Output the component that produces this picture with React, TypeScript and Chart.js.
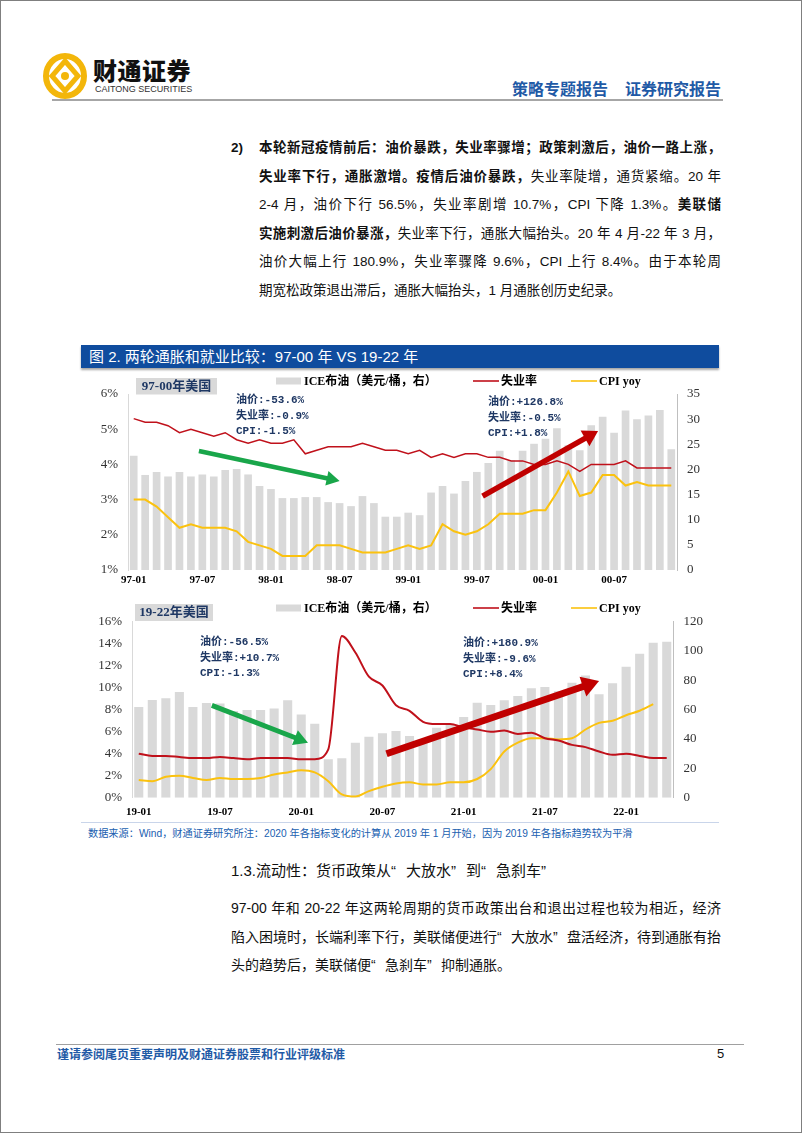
import React, { useEffect, useRef } from "react";
import { Chart, registerables } from "chart.js";
Chart.register(...registerables);

// ---------- Chart 1: 1997-01 .. 2000-12 ----------
const years1 = ["97", "98", "99", "00"];
const years2 = ["19", "20", "21", "22"];
const monthsNum = ["01", "02", "03", "04", "05", "06", "07", "08", "09", "10", "11", "12"];
const labels1: string[] = years1.flatMap((y) => monthsNum.map((m) => `${y}-${m}`));
const labels2: string[] = years2.flatMap((y) => monthsNum.map((m) => `${y}-${m}`)).slice(0, 40);

const oil1 = [
  22.7, 18.9, 19.5, 18.6, 19.5, 18.6, 19.0, 18.6, 19.9, 20.1, 19.0, 16.7,
  16.1, 14.3, 14.3, 14.5, 14.5, 13.5, 13.3, 12.7, 14.7, 13.3, 10.6, 10.6,
  11.4, 10.9, 15.4, 16.7, 15.2, 17.7, 19.5, 21.3, 23.7, 21.8, 23.7, 25.1,
  26.1, 28.2, 24.8, 23.8, 28.8, 30.5, 27.3, 31.7, 30.0, 30.7, 31.8, 24.0,
];
const unemp1 = [
  5.3, 5.2, 5.2, 5.1, 4.9, 5.0, 4.9, 4.8, 4.9, 4.7, 4.6, 4.7,
  4.6, 4.6, 4.7, 4.3, 4.4, 4.5, 4.5, 4.5, 4.6, 4.5, 4.4, 4.4,
  4.3, 4.4, 4.2, 4.3, 4.2, 4.3, 4.3, 4.2, 4.2, 4.1, 4.1, 4.0,
  4.0, 4.1, 4.0, 3.8, 4.0, 4.0, 4.0, 4.1, 3.9, 3.9, 3.9, 3.9,
];
const cpi1 = [
  3.0, 3.0, 2.8, 2.5, 2.2, 2.3, 2.2, 2.2, 2.2, 2.1, 1.8, 1.7,
  1.6, 1.4, 1.4, 1.4, 1.7, 1.7, 1.7, 1.6, 1.5, 1.5, 1.5, 1.6,
  1.7, 1.6, 1.7, 2.3, 2.1, 2.0, 2.1, 2.3, 2.6, 2.6, 2.6, 2.7,
  2.7, 3.2, 3.8, 3.1, 3.2, 3.7, 3.7, 3.4, 3.5, 3.4, 3.4, 3.4,
];

// ---------- Chart 2: 2019-01 .. 2022-04 ----------
const oil2 = [
  61.8, 66.6, 67.8, 72.1, 61.8, 64.6, 64.3, 59.1, 59.8, 59.8, 60.9, 66.4,
  56.8, 50.5, 26.2, 26.9, 37.5, 41.6, 43.9, 45.5, 42.1, 38.5, 47.7, 50.0,
  55.0, 64.8, 63.2, 66.4, 69.3, 74.6, 75.5, 72.5, 78.4, 83.4, 70.5, 78.0,
  89.3, 98.2, 105.7, 106.4,
];
const unemp2 = [
  4.0, 3.8, 3.8, 3.7, 3.6, 3.6, 3.7, 3.6, 3.5, 3.6, 3.6, 3.6,
  3.5, 3.5, 4.4, 14.7, 13.2, 11.0, 10.2, 8.4, 7.9, 6.9, 6.7, 6.7,
  6.4, 6.2, 6.0, 6.1, 5.8, 5.9, 5.4, 5.2, 4.8, 4.6, 4.2, 3.9,
  4.0, 3.8, 3.6, 3.6,
];
const cpi2 = [
  1.6, 1.5, 1.9, 2.0, 1.8, 1.6, 1.8, 1.7, 1.7, 1.8, 2.1, 2.3,
  2.5, 2.3, 1.5, 0.3, 0.1, 0.6, 1.0, 1.3, 1.4, 1.2, 1.2, 1.4,
  1.4, 1.7, 2.6, 4.2, 5.0, 5.4, 5.4, 5.3, 5.4, 6.2, 6.8, 7.0,
  7.5, 7.9, 8.5, null,
];

const seriesNames = ["ICE布油（美元/桶，右）", "失业率", "CPI yoy"];
const notes1Left = ["油价:-53.6%", "失业率:-0.9%", "CPI:-1.5%"];
const notes1Right = ["油价:+126.8%", "失业率:-0.5%", "CPI:+1.8%"];
const notes2Left = ["油价:-56.5%", "失业率:+10.7%", "CPI:-1.3%"];
const notes2Right = ["油价:+180.9%", "失业率:-9.6%", "CPI:+8.4%"];

const RED = "#c0111b";
const YELLOW = "#fbc20f";
const GRAY = "#d9d9d9";
const GREEN = "#19a64a";
const NAVY = "#1f3864";
const SERIF = '"Liberation Serif", "Times New Roman", serif';
const CJK = '"Noto Sans CJK SC", sans-serif';
const MONO = '"Liberation Mono", "Noto Sans CJK SC", monospace';

function drawArrow(ctx: CanvasRenderingContext2D, x0: number, y0: number, x1: number, y1: number, color: string, w: number, headW: number, headL: number) {
  const ang = Math.atan2(y1 - y0, x1 - x0);
  const bx = x1 - headL * Math.cos(ang);
  const by = y1 - headL * Math.sin(ang);
  const px = -Math.sin(ang);
  const py = Math.cos(ang);
  ctx.save();
  ctx.strokeStyle = color;
  ctx.fillStyle = color;
  ctx.lineWidth = w;
  ctx.lineCap = "butt";
  ctx.beginPath();
  ctx.moveTo(x0, y0);
  ctx.lineTo(bx + Math.cos(ang), by + Math.sin(ang));
  ctx.stroke();
  ctx.beginPath();
  ctx.moveTo(x1, y1);
  ctx.lineTo(bx + (px * headW) / 2, by + (py * headW) / 2);
  ctx.lineTo(bx - (px * headW) / 2, by - (py * headW) / 2);
  ctx.closePath();
  ctx.fill();
  ctx.restore();
}

const decorPlugin = {
  id: "decor",
  afterDraw(chart: any, _args: any, opts: any) {
    const ctx: CanvasRenderingContext2D = chart.ctx;
    const xs = chart.scales.x;
    const ys = chart.scales.y;
    // arrows (data coordinates: category index, left-axis value)
    for (const a of opts.arrows || []) {
      drawArrow(
        ctx,
        xs.getPixelForValue(a.x0),
        ys.getPixelForValue(a.y0),
        xs.getPixelForValue(a.x1),
        ys.getPixelForValue(a.y1),
        a.color,
        a.w,
        a.headW,
        a.headL
      );
    }
    // notes
    ctx.save();
    ctx.fillStyle = NAVY;
    ctx.font = `bold 11px ${MONO}`;
    ctx.textBaseline = "middle";
    ctx.textAlign = "left";
    for (const n of opts.notes || []) {
      n.lines.forEach((t: string, i: number) => ctx.fillText(t, n.x, n.y + i * n.gap));
    }
    ctx.restore();
    // box label
    const b = opts.box;
    if (b) {
      ctx.save();
      ctx.fillStyle = GRAY;
      ctx.fillRect(b.x, b.y, b.w, b.h);
      ctx.fillStyle = NAVY;
      ctx.font = `bold 13px "Liberation Serif", "Noto Sans CJK SC"`;
      ctx.textAlign = "center";
      ctx.textBaseline = "middle";
      ctx.fillText(b.text, b.x + b.w / 2, b.y + b.h / 2 + 0.5);
      ctx.restore();
    }
    // legend
    const lg = opts.legend;
    if (lg) {
      ctx.save();
      ctx.font = `bold 12px "Liberation Serif", "Noto Sans CJK SC"`;
      ctx.textBaseline = "middle";
      ctx.textAlign = "left";
      for (const it of lg.items) {
        const ds = chart.data.datasets[it.ds];
        if (ds.type === "bar") {
          ctx.fillStyle = ds.backgroundColor;
          ctx.fillRect(it.x, lg.y - 3.5, 25, 7);
        } else {
          ctx.strokeStyle = ds.borderColor;
          ctx.lineWidth = 1.6;
          ctx.beginPath();
          ctx.moveTo(it.x, lg.y);
          ctx.lineTo(it.x + 26, lg.y);
          ctx.stroke();
        }
        ctx.fillStyle = "#000";
        ctx.fillText(ds.label, it.x + 28, lg.y + 0.5);
      }
      ctx.restore();
    }
  },
};

type PanelParams = {
  labels: string[];
  oil: number[];
  unemp: number[];
  cpi: (number | null)[];
  yMin: number;
  yMax: number;
  yStep: number;
  y1Max: number;
  y1Step: number;
  padTop: number;
  xH: number;
  xPad: number;
  yW: number;
  y1W: number;
  redW: number;
  smooth: boolean;
  decor: any;
};

function makeConfig(p: PanelParams): any {
  const tickFont = { family: SERIF, size: 13 };
  return {
    type: "bar",
    data: {
      labels: p.labels,
      datasets: [
        {
          type: "line",
          label: seriesNames[1],
          data: p.unemp,
          borderColor: RED,
          backgroundColor: RED,
          borderWidth: p.redW,
          pointRadius: 0,
          yAxisID: "y",
          order: 1,
          cubicInterpolationMode: p.smooth ? "monotone" : "default",
          tension: 0,
        },
        {
          type: "line",
          label: seriesNames[2],
          data: p.cpi,
          borderColor: YELLOW,
          backgroundColor: YELLOW,
          borderWidth: 2,
          pointRadius: 0,
          yAxisID: "y",
          order: 2,
          cubicInterpolationMode: p.smooth ? "monotone" : "default",
          tension: 0,
        },
        {
          type: "bar",
          label: seriesNames[0],
          data: p.oil,
          backgroundColor: GRAY,
          yAxisID: "y1",
          order: 3,
          barPercentage: 0.67,
          categoryPercentage: 1,
        },
      ],
    },
    options: {
      responsive: false,
      animation: false,
      devicePixelRatio: 1,
      layout: { padding: { top: p.padTop, left: 0, right: 0, bottom: 0 } },
      plugins: { legend: { display: false }, tooltip: { enabled: false }, decor: p.decor },
      scales: {
        x: {
          type: "category",
          offset: true,
          grid: { display: false, drawTicks: false },
          border: { display: false },
          ticks: {
            autoSkip: false,
            maxRotation: 0,
            minRotation: 0,
            padding: p.xPad,
            color: "#000",
            font: { family: SERIF, size: 11, weight: "bold" },
            callback: (_v: any, i: number) => (i % 6 === 0 ? p.labels[i] : ""),
          },
          afterFit: (s: any) => {
            s.height = p.xH;
          },
        },
        y: {
          position: "left",
          min: p.yMin,
          max: p.yMax,
          grid: { display: false, drawTicks: false },
          border: { display: true, color: "#d9d9d9", width: 1 },
          ticks: {
            stepSize: p.yStep,
            padding: 10,
            color: "#333",
            font: tickFont,
            callback: (v: any) => `${v}%`,
          },
          afterFit: (s: any) => {
            s.width = p.yW;
          },
        },
        y1: {
          position: "right",
          min: 0,
          max: p.y1Max,
          grid: { display: false, drawTicks: false },
          border: { display: true, color: "#bfbfbf", width: 1 },
          ticks: { stepSize: p.y1Step, padding: 10, color: "#333", font: tickFont },
          afterFit: (s: any) => {
            s.width = p.y1W;
          },
        },
      },
    },
    plugins: [decorPlugin],
  };
}

const panel1: PanelParams = {
  labels: labels1,
  oil: oil1,
  unemp: unemp1,
  cpi: cpi1,
  yMin: 1,
  yMax: 6,
  yStep: 1,
  y1Max: 35,
  y1Step: 5,
  padTop: 23,
  xH: 21,
  xPad: 4,
  yW: 47,
  y1W: 44,
  redW: 1.5,
  smooth: false,
  decor: {
    arrows: [
      { x0: 5.7, y0: 4.38, x1: 18.0, y1: 3.53, color: GREEN, w: 4.5, headW: 15, headL: 13 },
      { x0: 30.5, y0: 3.1, x1: 40.6, y1: 4.95, color: "#c00000", w: 5.5, headW: 18, headL: 15 },
    ],
    notes: [
      { x: 155, y: 29.5, gap: 15.3, lines: notes1Left },
      { x: 407, y: 31.7, gap: 15.3, lines: notes1Right },
    ],
    box: { x: 55, y: 7, w: 81, h: 16.5, text: "97-00年美国" },
    legend: {
      y: 10,
      items: [
        { ds: 2, x: 195 },
        { ds: 0, x: 392 },
        { ds: 1, x: 490 },
      ],
    },
  },
};

const panel2: PanelParams = {
  labels: labels2,
  oil: oil2,
  unemp: unemp2,
  cpi: cpi2,
  yMin: 0,
  yMax: 16,
  yStep: 2,
  y1Max: 120,
  y1Step: 20,
  padTop: 28.7,
  xH: 23.3,
  xPad: 8,
  yW: 51,
  y1W: 47.5,
  redW: 2,
  smooth: true,
  decor: {
    arrows: [
      { x0: 5.4, y0: 8.4, x1: 12.5, y1: 5.0, color: GREEN, w: 5, headW: 16, headL: 14 },
      { x0: 18.3, y0: 4.0, x1: 34.0, y1: 10.6, color: "#c00000", w: 7, headW: 21, headL: 17 },
    ],
    notes: [
      { x: 119, y: 49.7, gap: 15.2, lines: notes2Left },
      { x: 382, y: 50.3, gap: 15.5, lines: notes2Right },
    ],
    box: { x: 54, y: 11, w: 78, h: 17, text: "19-22年美国" },
    legend: {
      y: 15,
      items: [
        { ds: 2, x: 195 },
        { ds: 0, x: 392 },
        { ds: 1, x: 490 },
      ],
    },
  },
};

function ChartPanel({ params, left, top, width, height }: { params: PanelParams; left: number; top: number; width: number; height: number }) {
  const ref = useRef<HTMLCanvasElement>(null);
  useEffect(() => {
    const chart = new Chart(ref.current as HTMLCanvasElement, makeConfig(params));
    return () => chart.destroy();
  }, []);
  return (
    <div style={{ position: "absolute", left, top, width, height }}>
      <canvas ref={ref} width={width} height={height} style={{ width, height, display: "block" }} />
    </div>
  );
}

const TEXT = '"Liberation Sans", "Noto Sans CJK SC", sans-serif';

function Line({ top, left, width, size, justify, children, color }: any) {
  return (
    <div
      style={{
        position: "absolute",
        left,
        top: top - 11,
        width,
        height: 22,
        lineHeight: "22px",
        fontSize: size,
        whiteSpace: "nowrap",
        textAlign: justify ? "justify" : "left",
        textAlignLast: justify ? "justify" : "left",
        color: color || "#111",
        fontFamily: TEXT,
      } as any}
    >
      {children}
    </div>
  );
}

const B = ({ children }: any) => <span style={{ fontWeight: 700 }}>{children}</span>;
// full-width curly quotes
const QO = () => <span style={{ display: "inline-block", width: "1em", textAlign: "right" }}>“</span>;
const QC = () => <span style={{ display: "inline-block", width: "1em", textAlign: "left" }}>”</span>;

export default function App() {
  const p1 = 147;
  const g1 = 28.6;
  return (
    <div
      style={{
        position: "relative",
        width: 802,
        height: 1133,
        boxSizing: "border-box",
        border: "1px solid #7f7f7f",
        background: "#fff",
        overflow: "hidden",
        fontFamily: TEXT,
      }}
    >
      <style>{"body{margin:0}"}</style>
      {/* Header */}
      <svg style={{ position: "absolute", left: 41, top: 52 }} width={46} height={46} viewBox="0 0 46 46">
        <ellipse cx={23} cy={23} rx={19} ry={20} fill="none" stroke="#f3b60a" strokeWidth={6} />
        <path d="M23 8 L36 23 L23 38 L10 23 Z" fill="none" stroke="#f3b60a" strokeWidth={5} />
        <circle cx={23} cy={23} r={4} fill="#f3b60a" />
      </svg>
      <div style={{ position: "absolute", left: 92, top: 55, fontSize: 24, fontWeight: 900, fontFamily: CJK, color: "#111", lineHeight: "28px", letterSpacing: 0.5 }}>
        财通证券
      </div>
      <div style={{ position: "absolute", left: 94, top: 83, fontSize: 9, fontFamily: '"Liberation Sans", sans-serif', color: "#333", lineHeight: "11px" }}>
        CAITONG SECURITIES
      </div>
      <div style={{ position: "absolute", left: 511, top: 76, fontSize: 16, fontWeight: 700, fontFamily: CJK, color: "#1f5aa6", lineHeight: "22px", whiteSpace: "nowrap" }}>
        策略专题报告
      </div>
      <div style={{ position: "absolute", left: 624, top: 76, fontSize: 16, fontWeight: 700, fontFamily: CJK, color: "#1f5aa6", lineHeight: "22px", whiteSpace: "nowrap" }}>
        证券研究报告
      </div>
      <div style={{ position: "absolute", left: 51, top: 98, width: 671, height: 2, background: "#a6a6a6" }} />

      {/* Paragraph 1 */}
      <Line top={p1} left={230} width={30} size={13.5}>
        <B>2)</B>
      </Line>
      <Line top={p1} left={258} width={462} size={13.5} justify>
        <B>本轮新冠疫情前后：油价暴跌，失业率骤增；政策刺激后，油价一路上涨，</B>
      </Line>
      <Line top={p1 + g1} left={258} width={462} size={13.5} justify>
        <B>失业率下行，通胀激增。疫情后油价暴跌，</B>失业率陡增，通货紧缩。20 年
      </Line>
      <Line top={p1 + 2 * g1} left={258} width={462} size={13.5} justify>
        2-4 月，油价下行 56.5%，失业率剧增 10.7%，CPI 下降 1.3%。<B>美联储</B>
      </Line>
      <Line top={p1 + 3 * g1} left={258} width={462} size={13.5} justify>
        <B>实施刺激后油价暴涨，</B>失业率下行，通胀大幅抬头。20 年 4 月-22 年 3 月，
      </Line>
      <Line top={p1 + 4 * g1} left={258} width={462} size={13.5} justify>
        油价大幅上行 180.9%，失业率骤降 9.6%，CPI 上行 8.4%。由于本轮周
      </Line>
      <Line top={p1 + 5 * g1} left={258} width={462} size={13.5}>
        期宽松政策退出滞后，通胀大幅抬头，1 月通胀创历史纪录。
      </Line>

      {/* Figure title bar */}
      <div
        style={{
          position: "absolute",
          left: 80,
          top: 344,
          width: 638,
          height: 23,
          background: "#0f4c9e",
          boxShadow: "0 2px 2px rgba(0,0,0,0.35)",
          color: "#fff",
          fontSize: 15,
          lineHeight: "23px",
          paddingLeft: 8,
          boxSizing: "border-box",
          whiteSpace: "nowrap",
          fontFamily: TEXT,
        }}
      >
        图 2. 两轮通胀和就业比较：97-00 年 VS 19-22 年
      </div>

      <ChartPanel params={panel1} left={80} top={370} width={640} height={220} />
      <ChartPanel params={panel2} left={80} top={592} width={640} height={228} />
      <div style={{ position: "absolute", left: 80, top: 821, width: 638, height: 1, background: "#c9d5ea" }} />

      <Line top={833} left={87} width={600} size={10.2} color="#2060b0">
        数据来源：Wind，财通证券研究所注：2020 年各指标变化的计算从 2019 年 1 月开始，因为 2019 年各指标趋势较为平滑
      </Line>

      <Line top={870} left={230} width={400} size={15}>
        1.3.流动性：货币政策从<QO />大放水<QC />到<QO />急刹车<QC />
      </Line>
      <Line top={907} left={230} width={490} size={14} justify>
        97-00 年和 20-22 年这两轮周期的货币政策出台和退出过程也较为相近，经济
      </Line>
      <Line top={935.5} left={230} width={490} size={14} justify>
        陷入困境时，长端利率下行，美联储便进行<QO />大放水<QC />盘活经济，待到通胀有抬
      </Line>
      <Line top={964} left={230} width={490} size={14}>
        头的趋势后，美联储便<QO />急刹车<QC />抑制通胀。
      </Line>

      {/* Footer */}
      <div style={{ position: "absolute", left: 55, top: 1043, width: 688, height: 1, background: "#a0a0a0" }} />
      <div style={{ position: "absolute", left: 56, top: 1044, fontSize: 12, fontWeight: 700, fontFamily: CJK, color: "#1f5aa6", lineHeight: "18px", whiteSpace: "nowrap" }}>
        谨请参阅尾页重要声明及财通证券股票和行业评级标准
      </div>
      <div style={{ position: "absolute", left: 716, top: 1044, fontSize: 13, fontFamily: TEXT, color: "#111", lineHeight: "18px" }}>5</div>
    </div>
  );
}
